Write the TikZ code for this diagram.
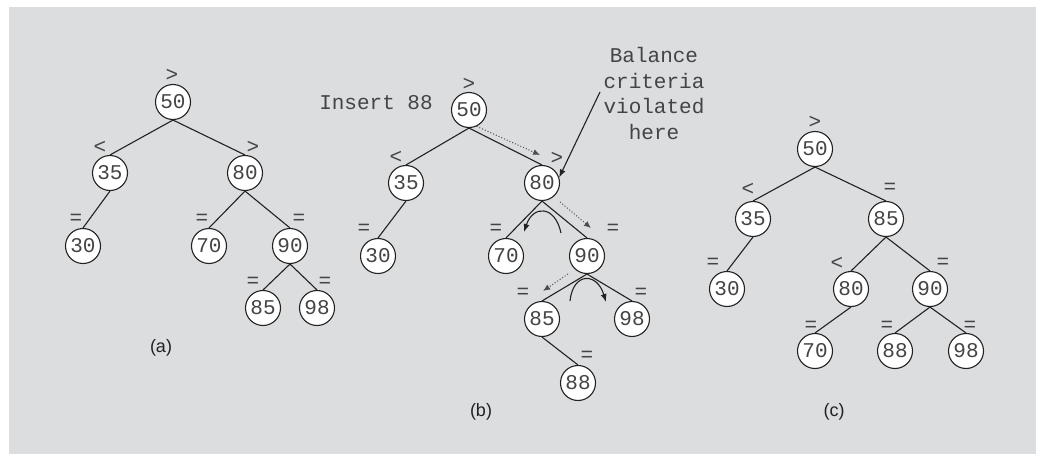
\documentclass[tikz,border=0pt]{standalone}
\usepackage{fontspec}
\setmainfont{Liberation Sans}
\newfontfamily\mono{Liberation Mono}
\usetikzlibrary{arrows.meta}
\definecolor{bg}{HTML}{DCDDDF}
\definecolor{txt}{HTML}{444444}
\definecolor{ln}{HTML}{222222}
\begin{document}
\begin{tikzpicture}[x=1pt,y=-1pt,
  nd/.style={circle,draw=ln,fill=white,line width=1.1pt,minimum size=35pt,inner sep=0pt,font=\mono\fontsize{21}{21}\selectfont,text=txt},
  bf/.style={font=\mono\fontsize{21}{21}\selectfont,text=txt,inner sep=0pt},
  captxt/.style={font=\fontsize{18}{18}\selectfont,text=ln,inner sep=0pt},
  edge/.style={line width=1.1pt,draw=ln},
  dotarrow/.style={dotted,line width=1pt,draw=ln!80,-{Latex[length=7pt,width=6pt]}},
  solarrow/.style={line width=1.1pt,draw=ln,-{Latex[length=8pt,width=6pt]}}
]
\useasboundingbox (0,0) rectangle (1037,455);
\fill[white] (0,0) rectangle (1037,455);
\fill[bg] (9,7) rectangle (1036,454);

% ---------- tree (a)
\node[nd] (a50) at (173,102) {50};
\node[nd] (a35) at (110,173) {35};
\node[nd] (a80) at (245,173) {80};
\node[nd] (a30) at (83,246) {30};
\node[nd] (a70) at (209,246) {70};
\node[nd] (a90) at (290,246) {90};
\node[nd] (a85) at (263,308) {85};
\node[nd] (a98) at (317,308) {98};
\node[bf] (la50) at (172,75) {>};
\node[bf] (la35) at (100,147) {<};
\node[bf] (la80) at (253,147) {>};
\node[bf] (la30) at (76,219) {=};
\node[bf] (la70) at (202,219) {=};
\node[bf] (la90) at (299,219) {=};
\node[bf] (la85) at (253,282) {=};
\node[bf] (la98) at (325,282) {=};
\node[captxt] (capa) at (161,348) {(a)};
\draw[edge] (a50.south) -- (a35.north);
\draw[edge] (a50.south) -- (a80.north);
\draw[edge] (a35.south) -- (a30.north);
\draw[edge] (a80.south) -- (a70.north);
\draw[edge] (a80.south) -- (a90.north);
\draw[edge] (a90.south) -- (a85.north);
\draw[edge] (a90.south) -- (a98.north);

% ---------- tree (b)
\node[nd] (b50) at (469,110) {50};
\node[nd] (b35) at (406,183) {35};
\node[nd] (b80) at (542,183) {80};
\node[nd] (b30) at (378,256) {30};
\node[nd] (b70) at (506,256) {70};
\node[nd] (b90) at (587,256) {90};
\node[nd] (b85) at (542,319) {85};
\node[nd] (b98) at (632,319) {98};
\node[nd] (b88) at (578,383) {88};
\node[bf] (lb50) at (469,84) {>};
\node[bf] (lb35) at (396,157) {<};
\node[bf] (lb80) at (557,158) {>};
\node[bf] (lb30) at (364,229) {=};
\node[bf] (lb70) at (496,229) {=};
\node[bf] (lb90) at (613,229) {=};
\node[bf] (lb85) at (523,293) {=};
\node[bf] (lb98) at (641,293) {=};
\node[bf] (lb88) at (587,356) {=};
\node[bf] (ins) at (376,103) {Insert 88};
\node[bf,align=center,font=\mono\fontsize{21}{25.7}\selectfont] (bal) at (654,93.5) {Balance\\criteria\\violated\\here};
\node[captxt] (capb) at (481,412) {(b)};
\draw[edge] (b50.south) -- (b35.north);
\draw[edge] (b50.south) -- (b80.north);
\draw[edge] (b35.south) -- (b30.north);
\draw[edge] (b80.south) -- (b70.north);
\draw[edge] (b80.south) -- (b90.north);
\draw[edge] (b90.south) -- (b85.north);
\draw[edge] (b90.south) -- (b98.north);
\draw[edge] (b85.south) -- (b88.north);
\coordinate (balstart) at (600,92);
\draw[solarrow] (balstart) -- (b80.18);
\coordinate (d1e) at (540,155);
\draw[dotarrow] (b50.-65) -- (d1e);
\coordinate (d2s) at (560,202);
\coordinate (d2e) at (591,228);
\draw[dotarrow] (d2s) -- (d2e);
\coordinate (d3s) at (568,274);
\coordinate (d3e) at (543,291);
\draw[dotarrow] (d3s) -- (d3e);
\coordinate (r1s) at (561,233);
\coordinate (r1e) at (524,232);
\draw[solarrow] (r1s) .. controls (555,205) and (533,205) .. (r1e);
\coordinate (r2s) at (570,301);
\coordinate (r2e) at (606,302);
\draw[solarrow] (r2s) .. controls (573,272) and (597,272) .. (r2e);

% ---------- tree (c)
\node[nd] (c50) at (815,149) {50};
\node[nd] (c35) at (753,219) {35};
\node[nd] (c85) at (886,219) {85};
\node[nd] (c30) at (727,289) {30};
\node[nd] (c80) at (851,289) {80};
\node[nd] (c90) at (930,289) {90};
\node[nd] (c70) at (815,351) {70};
\node[nd] (c88) at (895,351) {88};
\node[nd] (c98) at (966,351) {98};
\node[bf] (lc50) at (815,122) {>};
\node[bf] (lc35) at (748,189) {<};
\node[bf] (lc85) at (890,188) {=};
\node[bf] (lc30) at (713,263) {=};
\node[bf] (lc80) at (837,263) {<};
\node[bf] (lc90) at (943,263) {=};
\node[bf] (lc70) at (811,326) {=};
\node[bf] (lc88) at (887,326) {=};
\node[bf] (lc98) at (970,326) {=};
\node[captxt] (capc) at (834,412) {(c)};
\draw[edge] (c50.south) -- (c35.north);
\draw[edge] (c50.south) -- (c85.north);
\draw[edge] (c35.south) -- (c30.north);
\draw[edge] (c85.south) -- (c80.north);
\draw[edge] (c85.south) -- (c90.north);
\draw[edge] (c80.south) -- (c70.north);
\draw[edge] (c90.south) -- (c88.north);
\draw[edge] (c90.south) -- (c98.north);
\end{tikzpicture}
\end{document}
